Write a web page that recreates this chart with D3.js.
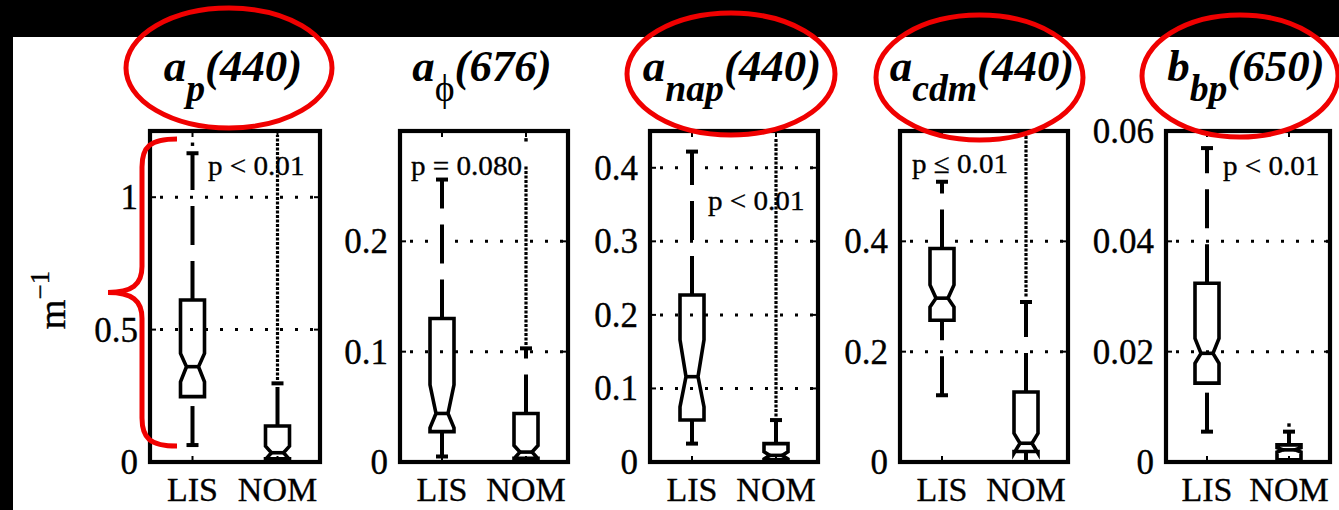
<!DOCTYPE html>
<html><head><meta charset="utf-8">
<script src="https://cdn.jsdelivr.net/npm/d3@7"></script>
<style>html,body{margin:0;padding:0;background:#fff;} svg{display:block;}</style>
</head><body>
<svg id="chart" width="1339" height="510"></svg>
<script>
// ---- data ----
const groups = ["LIS", "NOM"];
const titleBase = ["a", "a", "a", "a", "b"];
const titleSub = ["p", "\u03D5", "nap", "cdm", "bp"];
const titleWave = ["(440)", "(676)", "(440)", "(440)", "(650)"];
const yMax = [1.25, 0.3, 0.45, 0.6, 0.06];
const yTicks = [[0, 0.5, 1], [0, 0.1, 0.2], [0, 0.1, 0.2, 0.3, 0.4], [0, 0.2, 0.4], [0, 0.02, 0.04, 0.06]];
const yTickLabels = [["0", "0.5", "1"], ["0", "0.1", "0.2"], ["0", "0.1", "0.2", "0.3", "0.4"], ["0", "0.2", "0.4"], ["0", "0.02", "0.04", "0.06"]];
const pValues = ["p < 0.01", "p = 0.080", "p < 0.01", "p \u2264 0.01", "p < 0.01"];
const highlighted = [0, 2, 3, 4];

// box statistics: [lower adjacent, q1, notch low, median, notch high, q3, upper adjacent]
const lisStats = [
  [0.064, 0.247, 0.303, 0.36, 0.41, 0.612, 1.166],
  [0.005, 0.0275, 0.031, 0.044, 0.070, 0.130, 0.256],
  [0.025, 0.057, 0.075, 0.116, 0.166, 0.227, 0.422],
  [0.121, 0.257, 0.281, 0.297, 0.321, 0.387, 0.508],
  [0.0055, 0.0143, 0.0179, 0.0197, 0.0224, 0.0324, 0.0569]
];
const nomStats = [
  [0, 0.012, 0.01, 0.035, 0.06, 0.136, 0.297],
  [0, 0.0034, 0.003, 0.009, 0.015, 0.044, 0.103],
  [0, 0.003, 0.004, 0.009, 0.014, 0.025, 0.057],
  [0, 0.019, 0.016, 0.034, 0.052, 0.127, 0.29],
  [0, 0.0004, 0.0018, 0.0022, 0.0026, 0.0031, 0.0055]
];
// single outliers and runs of densely packed outliers [from, to]
const lisOutliers = [[1.2], [], [], [], []];
const nomOutliers = [[], [0.292], [], [], [0.0067]];
const nomOutlierRuns = [[0.31, 1.235], [0.106, 0.268], [0.062, 0.44], [0.30, 0.595], null];
// bracket drawn next to the first panel, in its units
const braceSpan = [0.06, 1.22];

// ---- layout ----
const W = 1339, H = 510;
const panelLeft = [150, 400, 650, 900, 1166];
const panelWidth = [170, 168, 168, 168, 164];
const axTop = 131, axBottom = 462;
const pTextOffset = [[58, 44], [11, 44], [58, 79], [12, 42], [57, 44]];
const serif = "'Liberation Serif', 'Times New Roman', serif";
const RED = "#f00000";
const boxHalf = 12;

const svg = d3.select("#chart");
svg.append("rect").attr("width", W).attr("height", H).attr("fill", "#fff");

function stretchText(parent, x, y, sx, size, anchor, str) {
  return parent.append("g").attr("transform", `translate(${x},${y}) scale(${sx},1)`)
    .append("text").attr("x", 0).attr("y", 0)
    .attr("font-family", serif).attr("font-size", size)
    .attr("text-anchor", anchor).attr("fill", "#000")
    .attr("stroke", "#000").attr("stroke-width", 0.35).text(str);
}

function boxPath(x, y, s) {
  const [lw, q1, nLo, med, nHi, q3, uw] = s;
  const L = x - boxHalf, R = x + boxHalf, ind = boxHalf / 2;
  return `M${L},${y(q3)} L${L},${y(nHi)} L${L + ind},${y(med)} L${L},${y(nLo)} L${L},${y(q1)}` +
         ` L${R},${y(q1)} L${R},${y(nLo)} L${R - ind},${y(med)} L${R},${y(nHi)} L${R},${y(q3)} Z`;
}

const scales = [];

for (let i = 0; i < 5; i++) {
  const g = svg.append("g");
  const x0 = panelLeft[i], x1 = panelLeft[i] + panelWidth[i];
  const x = d3.scaleLinear().domain([0.5, 2.5]).range([x0, x1]);
  const y = d3.scaleLinear().domain([0, yMax[i]]).range([axBottom, axTop]);
  scales.push({ x, y });

  // dotted horizontal grid
  g.selectAll(".grid").data(yTicks[i].filter(t => t > 0 && t < yMax[i])).enter()
    .append("line")
    .attr("x1", x0).attr("x2", x1)
    .attr("y1", d => y(d)).attr("y2", d => y(d))
    .attr("stroke", "#000").attr("stroke-width", 3)
    .attr("stroke-dasharray", "3,12").attr("stroke-dashoffset", -10);

  // p-value annotation
  stretchText(g, x0 + pTextOffset[i][0], axTop + pTextOffset[i][1], 1.04, 28, "start", pValues[i]);

  [lisStats[i], nomStats[i]].forEach((s, k) => {
    const cx = x(k + 1);
    const [lw, q1, nLo, med, nHi, q3, uw] = s;
    // whiskers, drawn upward from their lower end
    g.append("line").attr("x1", cx).attr("x2", cx).attr("y1", y(q3)).attr("y2", y(uw))
      .attr("stroke", "#000").attr("stroke-width", 4).attr("stroke-dasharray", "39,16");
    g.append("line").attr("x1", cx).attr("x2", cx).attr("y1", y(lw)).attr("y2", y(q1))
      .attr("stroke", "#000").attr("stroke-width", 4).attr("stroke-dasharray", "39,16");
    // caps
    [lw, uw].forEach(v => {
      g.append("line").attr("x1", cx - boxHalf / 2).attr("x2", cx + boxHalf / 2)
        .attr("y1", y(v)).attr("y2", y(v)).attr("stroke", "#000").attr("stroke-width", 4);
    });
    // notched box
    g.append("path").attr("d", boxPath(cx, y, s)).attr("fill", "none")
      .attr("stroke", "#000").attr("stroke-width", 3.6).attr("stroke-linejoin", "miter");
    // median
    g.append("line").attr("x1", cx - boxHalf / 2).attr("x2", cx + boxHalf / 2)
      .attr("y1", y(med)).attr("y2", y(med)).attr("stroke", "#000").attr("stroke-width", 3.6);
  });

  // outliers
  const run = nomOutlierRuns[i];
  if (run) {
    g.append("line").attr("x1", x(2)).attr("x2", x(2)).attr("y1", y(run[0])).attr("y2", y(run[1]))
      .attr("stroke", "#000").attr("stroke-width", 3.2).attr("stroke-dasharray", "3,1.5");
  }
  [[lisOutliers[i], 1], [nomOutliers[i], 2]].forEach(([arr, pos]) => {
    g.selectAll(null).data(arr).enter().append("rect")
      .attr("x", x(pos) - 1.7).attr("y", d => y(d) - 1.7)
      .attr("width", 3.4).attr("height", 3.4).attr("fill", "#000");
  });

  // axes frame
  g.append("rect").attr("x", x0).attr("y", axTop).attr("width", x1 - x0).attr("height", axBottom - axTop)
    .attr("fill", "none").attr("stroke", "#000").attr("stroke-width", 4.2);

  // inward ticks
  [1, 2].forEach(p => {
    g.append("line").attr("x1", x(p)).attr("x2", x(p)).attr("y1", axBottom).attr("y2", axBottom - 6)
      .attr("stroke", "#000").attr("stroke-width", 2);
    g.append("line").attr("x1", x(p)).attr("x2", x(p)).attr("y1", axTop).attr("y2", axTop + 6)
      .attr("stroke", "#000").attr("stroke-width", 2);
  });
  yTicks[i].forEach(t => {
    g.append("line").attr("x1", x0).attr("x2", x0 + 6).attr("y1", y(t)).attr("y2", y(t))
      .attr("stroke", "#000").attr("stroke-width", 2);
    g.append("line").attr("x1", x1).attr("x2", x1 - 6).attr("y1", y(t)).attr("y2", y(t))
      .attr("stroke", "#000").attr("stroke-width", 2);
  });

  // tick labels
  yTicks[i].forEach((t, j) => {
    stretchText(g, x0 - 12, y(t) + 12, 1.0, 35, "end", yTickLabels[i][j]);
  });
  groups.forEach((name, k) => {
    stretchText(g, x(k + 1), 501, 1.0, 34, "middle", name);
  });

  // panel title with subscript
  const tcx = (x0 + x1) / 2 - 2;
  const tg = svg.append("g").attr("transform", `translate(${tcx},81) scale(1.02,1)`);
  const tt = tg.append("text").attr("x", 0).attr("y", 0)
    .attr("font-family", serif).attr("font-weight", "bold").attr("font-style", "italic")
    .attr("text-anchor", "middle").attr("font-size", 44).attr("fill", "#000");
  tt.append("tspan").text(titleBase[i]);
  const sub = tt.append("tspan").attr("dy", 20).attr("font-size", 37).text(titleSub[i]);
  if (titleSub[i] === "\u03D5") sub.attr("font-style", "normal").attr("font-weight", "normal");
  tt.append("tspan").attr("dy", -20).text(titleWave[i]);
}

// y axis unit
const yl = svg.append("text").attr("transform", "translate(65,300) rotate(-90)")
  .attr("font-family", serif).attr("font-size", 38).attr("text-anchor", "middle").attr("fill", "#000")
  .attr("stroke", "#000").attr("stroke-width", 0.35);
yl.append("tspan").text("m");
yl.append("tspan").attr("dy", -16).attr("font-size", 27).text("\u22121");

// dark frame along top and left edges
svg.append("rect").attr("x", 0).attr("y", 0).attr("width", W).attr("height", 37).attr("fill", "#000");
svg.append("rect").attr("x", 0).attr("y", 0).attr("width", 13).attr("height", H).attr("fill", "#000");

// red ellipses around highlighted titles
const ellipseShape = { 0: [-6, 68, 103, 60], 2: [-3, 74, 104, 61], 3: [-4.5, 77.5, 103.5, 62.5], 4: [-8, 76, 98, 61] };
highlighted.forEach(i => {
  const cx = panelLeft[i] + panelWidth[i] / 2;
  const [dx, cy, rx, ry] = ellipseShape[i];
  svg.append("ellipse").attr("cx", cx + dx).attr("cy", cy).attr("rx", rx).attr("ry", ry)
    .attr("fill", "none").attr("stroke", RED).attr("stroke-width", 5);
});

// curly bracket spanning the first panel's range
{
  const y = scales[0].y;
  const yt = y(braceSpan[1]), yb = y(braceSpan[0]), ym = (yt + yb) / 2;
  const xe = 177, xv = 142, xt = 108;
  const d = `M${xe},${yt} C${xv + 8},${yt} ${xv},${yt + 8} ${xv},${yt + 28}` +
            ` L${xv},${ym - 26} C${xv},${ym - 8} ${xv - 10},${ym} ${xt},${ym}` +
            ` C${xv - 10},${ym} ${xv},${ym + 8} ${xv},${ym + 26}` +
            ` L${xv},${yb - 28} C${xv},${yb - 8} ${xv + 8},${yb} ${xe},${yb}`;
  svg.append("path").attr("d", d).attr("fill", "none").attr("stroke", RED).attr("stroke-width", 5);
}
</script>
</body></html>
